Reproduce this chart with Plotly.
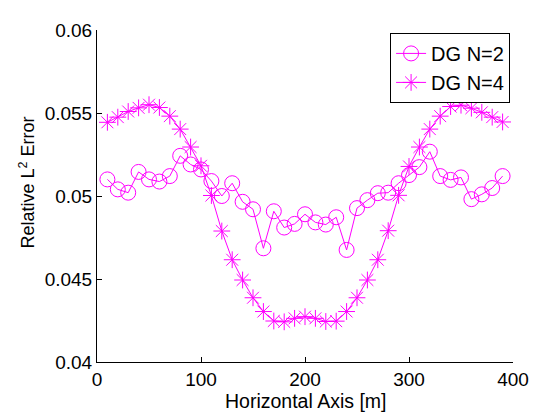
import plotly.graph_objects as go

x_vals = list(range(10, 400, 10))

dg_n2 = [0.0510, 0.0504, 0.0502, 0.05145, 0.0510, 0.05087, 0.0512, 0.05242, 0.0519, 0.0516,
         0.0509, 0.0500, 0.05077, 0.04965, 0.0492, 0.04685, 0.04908, 0.0481, 0.04832, 0.0489,
         0.04841, 0.04828, 0.04872, 0.04675, 0.04927, 0.04975, 0.05017, 0.0502, 0.05077, 0.05126,
         0.05174, 0.05267, 0.0512, 0.05097, 0.05112, 0.04981, 0.0501, 0.05048, 0.0512]

dg_n4 = [0.05444, 0.05475, 0.05509, 0.05531, 0.05550, 0.05533, 0.05481, 0.05403, 0.05295, 0.05182,
         0.05003, 0.04789, 0.04616, 0.04494, 0.04387, 0.04304, 0.04247, 0.04242, 0.04263, 0.04273,
         0.04263, 0.04244, 0.04246, 0.04304, 0.04387, 0.04494, 0.04616, 0.04791, 0.05004, 0.05178,
         0.05295, 0.05403, 0.05481, 0.05539, 0.05547, 0.05529, 0.05504, 0.05475, 0.05446]

x_ticks = [0, 100, 200, 300, 400]
y_ticks = [0.04, 0.045, 0.05, 0.055, 0.06]
y_tick_labels = ["0.04", "0.045", "0.05", "0.055", "0.06"]

color = "#ff00ff"
font_family = "Liberation Sans, Arial, sans-serif"

fig = go.Figure()
fig.add_trace(go.Scatter(
    x=x_vals, y=dg_n2, name="DG N=2", mode="lines+markers",
    line=dict(color=color, width=1),
    marker=dict(symbol="circle-open", size=15, color=color, line=dict(width=1, color=color)),
))
fig.add_trace(go.Scatter(
    x=x_vals, y=dg_n4, name="DG N=4", mode="lines+markers",
    line=dict(color=color, width=1),
    marker=dict(symbol="asterisk-open", size=14, color=color, line=dict(width=1, color=color)),
))

axis_common = dict(
    showgrid=False, zeroline=False, showline=True, linecolor="black", linewidth=1,
    ticks="inside", ticklen=5, tickcolor="black", mirror=False,
    tickfont=dict(family=font_family, size=19, color="black"),
)

fig.update_xaxes(range=[0, 400], tickvals=x_ticks, ticktext=[str(v) for v in x_ticks],
                 **axis_common)
fig.update_yaxes(range=[0.04, 0.06], tickvals=y_ticks, ticktext=y_tick_labels,
                 **axis_common)

plot_h = 411 - 13 - 57
fig.add_annotation(
    text="Horizontal Axis [m]",
    xref="paper", yref="paper", x=0.5, y=-40 / plot_h,
    xanchor="center", yanchor="middle", showarrow=False,
    font=dict(family=font_family, size=19.5, color="black"),
)
fig.add_annotation(
    text="Relative L<sup>2</sup> Error", textangle=-90,
    xref="paper", yref="paper", x=(26 - 97) / 426, y=(362 - 178) / plot_h,
    xanchor="center", yanchor="middle", showarrow=False,
    font=dict(family=font_family, size=18, color="black"),
)

# page body has an 8px margin, so the figure is sized/offset to land the plot at the reference's pixels
fig.update_layout(
    width=533, height=411,
    margin=dict(l=89, r=18, t=13, b=57),
    paper_bgcolor="white", plot_bgcolor="white",
    font=dict(family=font_family, color="black"),
    legend=dict(x=0.993, y=(362 - 24) / plot_h, xanchor="right", yanchor="top",
                bgcolor="white", bordercolor="black", borderwidth=1,
                font=dict(family=font_family, size=20, color="black"),
                itemwidth=30, tracegroupgap=0),
    showlegend=True,
)

fig.write_html("out.html")
